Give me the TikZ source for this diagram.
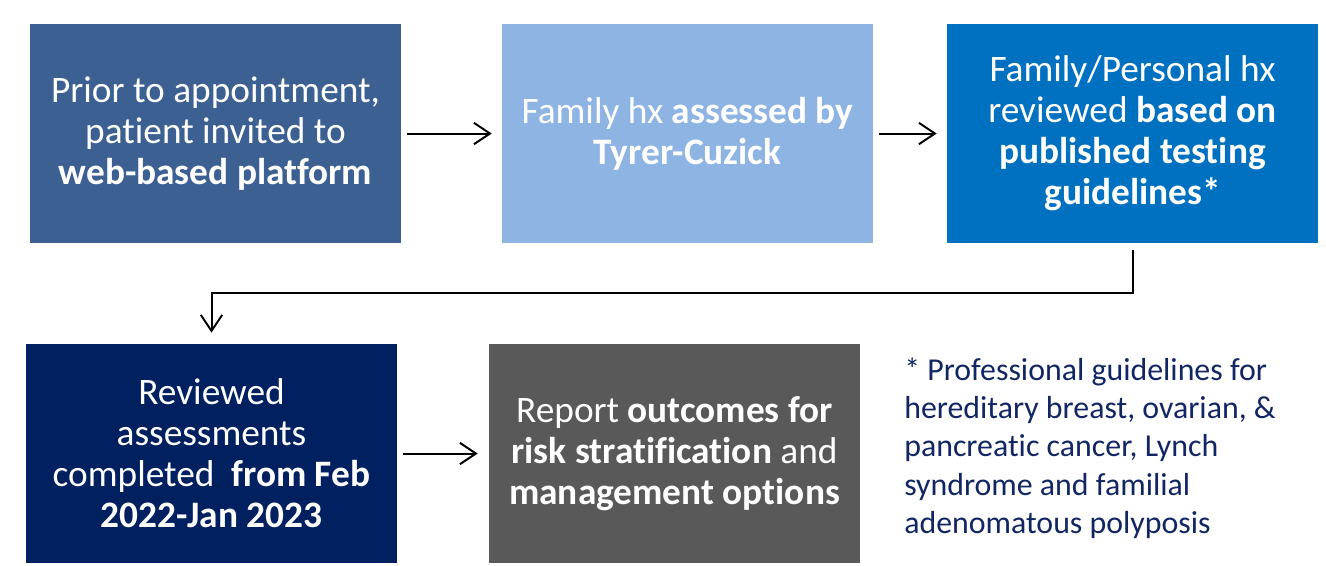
\documentclass[tikz,border=0pt]{standalone}
\usepackage{fontspec}
\setmainfont{Carlito}[Ligatures=NoCommon]
\usetikzlibrary{arrows.meta,positioning}
\definecolor{steel}{RGB}{59,96,145}
\definecolor{skyblue}{RGB}{142,180,227}
\definecolor{ocean}{RGB}{0,112,192}
\definecolor{navy}{RGB}{0,32,96}
\definecolor{slate}{RGB}{89,89,89}
\definecolor{notecolor}{RGB}{18,38,100}
\tikzset{>={Straight Barb[length=12pt,width=16pt]}}

\begin{document}
\begin{tikzpicture}[x=0.75pt,y=-0.75pt]
    \tikzset{
      stepbox/.style={minimum width=278.25pt, minimum height=164.25pt, inner sep=0pt,
        align=center, text=white, font=\fontsize{28}{30.75}\selectfont},
      flow/.style={->, line width=1.5pt},
    }
    \useasboundingbox (0,0) rectangle (1326,565);

    % Top row.
    \node[stepbox, fill=steel]   (invite) at (215.5,133.5)  {Prior to appointment,\\ patient invited to\\ \textbf{web-based platform}};
    \node[stepbox, fill=skyblue] (tyrer)  at (687.5,133.5)  {Family hx \textbf{assessed by}\\ \textbf{Tyrer-Cuzick}};
    \node[stepbox, fill=ocean]   (review) at (1132.5,133.5) {Family/Personal hx\\ reviewed \textbf{based on}\\ \textbf{published testing}\\ \textbf{guidelines*}};

    % Bottom row.
    \node[stepbox, fill=navy]  (done)   at (211.5,453.5) {Reviewed\\ assessments\\ completed~ \textbf{from Feb}\\ \textbf{2022-Jan 2023}};
    \node[stepbox, fill=slate] (report) at (674.5,453.5) {Report \textbf{outcomes for}\\ \textbf{risk stratification} and\\ \textbf{management options}};

    % Footnote.
    \node[anchor=north west, align=left, inner sep=0pt, text=notecolor,
      font=\fontsize{23.9}{28.7}\selectfont] (note) at (904,357.5)
      {* Professional guidelines for\\ hereditary breast, ovarian, \&\\ pancreatic cancer, Lynch\\ syndrome and familial\\ adenomatous polyposis};

    % Connectors.
    \draw[flow] ([xshift=4.5pt]invite.east) -- ([xshift=-7.5pt]tyrer.west);
    \draw[flow] ([xshift=4.5pt]tyrer.east)  -- ([xshift=-7.5pt]review.west);
    \draw[flow] ([yshift=-5.25pt]review.south) -- (review.south |- 0,293) -| ([yshift=8.25pt]done.north);
    \draw[flow] ([xshift=4.5pt]done.east)   -- ([xshift=-8.25pt]report.west);
\end{tikzpicture}
\end{document}
